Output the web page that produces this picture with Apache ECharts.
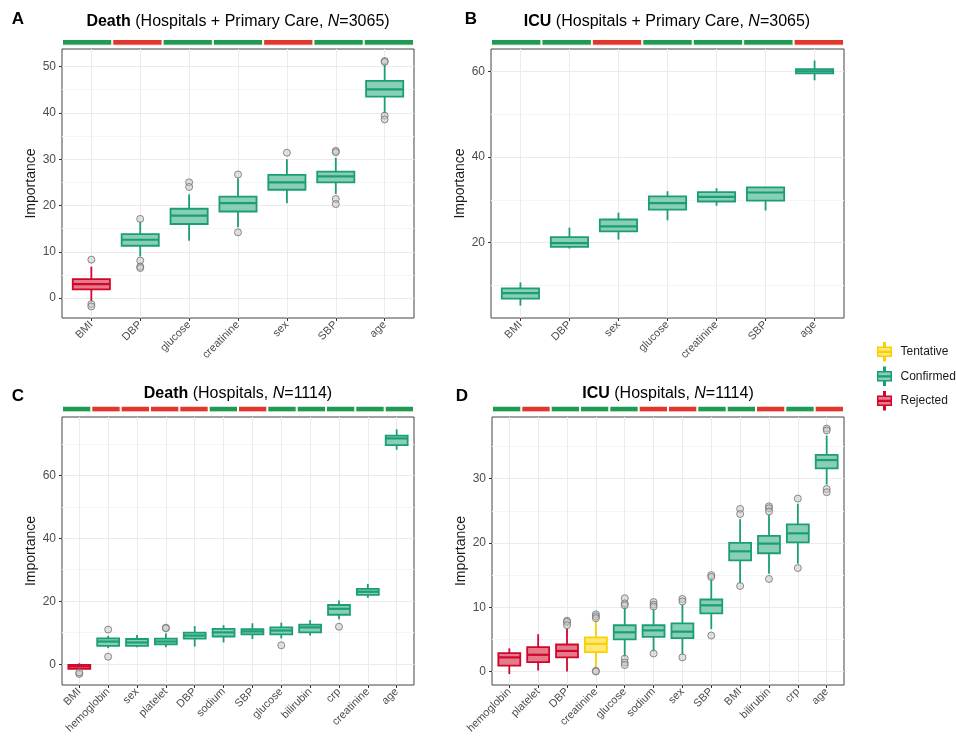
<!DOCTYPE html>
<html><head><meta charset="utf-8">
<script src="https://cdn.jsdelivr.net/npm/echarts@6/dist/echarts.min.js"></script>
<style>html,body{margin:0;padding:0;background:#fff}#c{width:956px;height:743px}</style>
</head><body><div id="c"></div><script>
// ---------- DATA ----------
// Panel A: Death (Hospitals + Primary Care)
const catsA  = ['BMI','DBP','glucose','creatinine','sex','SBP','age'];
const lowA   = [-0.7, 9.0, 12.4, 15.3, 20.5, 22.5, 39.9];
const q1A    = [1.9, 11.3, 16.0, 18.7, 23.4, 25.0, 43.5];
const medA   = [3.0, 12.6, 17.8, 20.5, 25.0, 26.3, 45.1];
const q3A    = [4.1, 13.8, 19.3, 21.9, 26.6, 27.3, 46.9];
const highA  = [6.8, 16.5, 22.4, 25.9, 30.0, 30.3, 50.7];
const decA   = ['R','C','C','C','C','C','C'];
const outA   = [[8.3,-1.3,-1.8],[17.1,8.1,6.8,6.5],[25.0,24.0],[26.7,14.2],[31.4],[31.8,31.5,21.4,20.3],[51.2,51.0,39.4,38.6]];
const stripA = ['G','R','G','G','R','G','G'];
const yTicksA = [0,10,20,30,40,50];

// Panel B: ICU (Hospitals + Primary Care)
const catsB  = ['BMI','DBP','sex','glucose','creatinine','SBP','age'];
const lowB   = [5.3, 18.6, 20.7, 25.2, 28.6, 27.5, 57.9];
const q1B    = [6.9, 19.0, 22.6, 27.7, 29.6, 29.8, 59.5];
const medB   = [8.2, 19.9, 23.8, 29.2, 30.7, 31.7, 60.0];
const q3B    = [9.3, 21.3, 25.4, 30.8, 31.8, 32.9, 60.5];
const highB  = [10.7, 23.5, 27.0, 32.0, 32.7, 33.0, 62.5];
const decB   = ['C','C','C','C','C','C','C'];
const outB   = [[],[],[],[],[],[],[]];
const stripB = ['G','G','R','G','G','G','R'];
const yTicksB = [20,40,60];

// Panel C: Death (Hospitals)
const catsC  = ['BMI','hemoglobin','sex','platelet','DBP','sodium','SBP','glucose','bilirubin','crp','creatinine','age'];
const lowC   = [-2.3, 5.1, 5.4, 5.4, 5.6, 6.9, 8.0, 8.2, 9.1, 14.3, 21.1, 68.1];
const q1C    = [-1.5, 5.8, 5.8, 6.3, 8.1, 8.8, 9.5, 9.5, 10.1, 15.7, 22.0, 69.6];
const medC   = [-0.7, 7.2, 6.9, 7.2, 9.1, 10.1, 10.4, 10.7, 11.7, 17.6, 23.0, 71.7];
const q3C    = [-0.2, 8.2, 8.0, 8.1, 10.0, 11.2, 11.1, 11.7, 12.6, 18.8, 23.9, 72.6];
const highC  = [0.3, 9.0, 9.3, 9.8, 12.1, 12.4, 13.0, 13.2, 14.0, 20.2, 25.5, 74.6];
const decC   = ['R','C','C','C','C','C','C','C','C','C','C','C'];
const outC   = [[-3.1,-2.6],[11.0,2.4],[],[11.6,11.4],[],[],[],[6.0],[],[11.9],[],[]];
const stripC = ['G','R','R','R','R','G','R','G','G','G','G','G'];
const yTicksC = [0,20,40,60];

// Panel D: ICU (Hospitals)
const catsD  = ['hemoglobin','platelet','DBP','creatinine','glucose','sodium','sex','SBP','BMI','bilirubin','crp','age'];
const lowD   = [-0.4, 0.15, 0.0, 0.4, 2.3, 3.1, 2.6, 6.6, 13.7, 15.2, 16.8, 29.1];
const q1D    = [0.9, 1.45, 2.2, 3.0, 5.0, 5.4, 5.2, 9.05, 17.3, 18.4, 20.1, 31.6];
const medD   = [2.2, 2.6, 3.2, 4.3, 6.1, 6.4, 6.2, 10.3, 18.7, 19.9, 21.5, 32.9];
const q3D    = [2.85, 3.8, 4.2, 5.3, 7.2, 7.2, 7.5, 11.2, 20.0, 21.1, 22.9, 33.7];
const highD  = [3.6, 5.8, 6.7, 8.0, 10.0, 9.7, 10.4, 14.4, 23.7, 24.4, 26.1, 36.7];
const decD   = ['R','R','R','T','C','C','C','C','C','C','C','C'];
const outD   = [[],[],[7.9,7.7,7.2],[8.9,8.6,8.3,0.1,0.0],[11.4,10.6,10.3,2.0,1.4,1.0],[10.8,10.4,10.1,2.8],[11.3,10.9,2.2],[15.0,14.7,5.6],[25.3,24.5,13.3],[25.7,25.4,24.9,14.4],[26.9,16.1],[37.8,37.5,28.4,27.9]];
const stripD = ['G','R','G','G','G','R','R','G','G','R','G','R'];
const yTicksD = [0,10,20,30];

const legendNames = ['Tentative','Confirmed','Rejected'];

// ---------- STYLE ----------
const FONT = "'Liberation Sans', Arial, Helvetica, sans-serif";
const DEC = {
  T: {code:0, dark:'#f8d200', light:'#ffe77a'},
  C: {code:1, dark:'#1b9e77', light:'#88cfb5'},
  R: {code:2, dark:'#d1062b', light:'#e57a8c'}
};
const DEC_LIST = [DEC.T, DEC.C, DEC.R];
const STRIP = {G:'#1f9a50', R:'#e0362b'};
const BOX_W = 0.76;

const panels = [
  {cats:catsA, low:lowA, q1:q1A, med:medA, q3:q3A, high:highA, dec:decA, out:outA, strip:stripA, yticks:yTicksA,
   ymin:-4.3, ymax:53.8, yint:10, grid:{left:62, top:49, width:352, height:269}, stripTop:39},
  {cats:catsB, low:lowB, q1:q1B, med:medB, q3:q3B, high:highB, dec:decB, out:outB, strip:stripB, yticks:yTicksB,
   ymin:2.4, ymax:65.2, yint:20, grid:{left:491, top:49, width:353, height:269}, stripTop:39},
  {cats:catsC, low:lowC, q1:q1C, med:medC, q3:q3C, high:highC, dec:decC, out:outC, strip:stripC, yticks:yTicksC,
   ymin:-6.6, ymax:78.5, yint:20, grid:{left:62, top:417, width:352, height:268}, stripTop:405.7},
  {cats:catsD, low:lowD, q1:q1D, med:medD, q3:q3D, high:highD, dec:decD, out:outD, strip:stripD, yticks:yTicksD,
   ymin:-2.1, ymax:39.6, yint:10, grid:{left:492, top:417, width:352, height:268}, stripTop:405.7}
];

function renderBox(params, api) {
  const x = api.value(0);
  const pLow = api.coord([x, api.value(1)]);
  const pQ1 = api.coord([x, api.value(2)]);
  const pMed = api.coord([x, api.value(3)]);
  const pQ3 = api.coord([x, api.value(4)]);
  const pHigh = api.coord([x, api.value(5)]);
  const c = DEC_LIST[api.value(6)];
  const w = api.size([BOX_W, 0])[0];
  const cx = pMed[0];
  const lw = 1.8;
  return {type:'group', children:[
    {type:'line', shape:{x1:cx, y1:pHigh[1], x2:cx, y2:pLow[1]}, style:{stroke:c.dark, lineWidth:lw}},
    {type:'rect', shape:{x:cx - w/2, y:pQ3[1], width:w, height:pQ1[1] - pQ3[1]},
     style:{fill:c.light, stroke:c.dark, lineWidth:lw}},
    {type:'line', shape:{x1:cx - w/2, y1:pMed[1], x2:cx + w/2, y2:pMed[1]}, style:{stroke:c.dark, lineWidth:lw + 0.4}}
  ]};
}

const grid = [], xAxis = [], yAxis = [], series = [];
panels.forEach((p, i) => {
  const n = p.cats.length;
  const idx = p.cats.map((_, j) => j);
  grid[i] = Object.assign({show:true, borderColor:'#444', borderWidth:1, containLabel:false, outerBoundsMode:'none'}, p.grid);
  grid[i + 4] = {left:p.grid.left, width:p.grid.width, top:p.stripTop, height:6.7, containLabel:false, outerBoundsMode:'none'};
  xAxis[i] = {
    gridIndex:i, type:'value', min:-0.6, max:n - 0.4, minInterval:1, maxInterval:1,
    axisLine:{show:false, onZero:false},
    axisTick:{show:true, customValues:idx, length:3, lineStyle:{color:'#333', width:1}},
    axisLabel:{customValues:idx, rotate:45, margin:5, fontSize:11, color:'#4d4d4d', fontFamily:FONT,
      formatter: v => p.cats[Math.round(v)] || ''},
    splitLine:{show:true, lineStyle:{color:'#ebebeb', width:1}}
  };
  yAxis[i] = {
    gridIndex:i, type:'value', min:p.ymin, max:p.ymax, minInterval:p.yint, maxInterval:p.yint,
    axisLine:{show:false, onZero:false},
    axisTick:{show:true, customValues:p.yticks, length:3, lineStyle:{color:'#333', width:1}},
    axisLabel:{customValues:p.yticks, margin:6, fontSize:12, color:'#4d4d4d', fontFamily:FONT},
    splitLine:{show:true, lineStyle:{color:'#ebebeb', width:1}},
    minorTick:{show:false, splitNumber:2},
    minorSplitLine:{show:true, lineStyle:{color:'#f5f5f5', width:1}},
    name:'Importance', nameLocation:'middle', nameGap:24,
    nameTextStyle:{fontSize:14, color:'#1a1a1a', fontFamily:FONT}
  };
  xAxis[i + 4] = {gridIndex:i + 4, type:'category', data:p.cats, show:false, boundaryGap:true};
  yAxis[i + 4] = {gridIndex:i + 4, type:'value', min:0, max:1, show:false};

  series.push({
    type:'bar', xAxisIndex:i + 4, yAxisIndex:i + 4, silent:true, barWidth:'100%',
    data:p.strip.map(s => ({value:1, itemStyle:{color:STRIP[s]}})),
    itemStyle:{borderColor:'#fff', borderWidth:1}
  });
  series.push({
    type:'custom', xAxisIndex:i, yAxisIndex:i, silent:true, renderItem:renderBox,
    encode:{x:0, y:[1,2,3,4,5]},
    data:p.cats.map((c, j) => [j, p.low[j], p.q1[j], p.med[j], p.q3[j], p.high[j], DEC[p.dec[j]].code]),
    z:2
  });
  const pts = [];
  p.out.forEach((arr, j) => arr.forEach(v => pts.push([j, v])));
  series.push({
    type:'scatter', xAxisIndex:i, yAxisIndex:i, silent:true, symbol:'circle', symbolSize:7,
    data:pts, z:3,
    itemStyle:{color:'rgba(200,200,200,0.65)', borderColor:'#707070', borderWidth:1}
  });
});

// dummy series for legend
legendNames.forEach(nm => series.push({type:'custom', name:nm, xAxisIndex:0, yAxisIndex:0, data:[], renderItem:() => null}));

const legendColors = [DEC.T, DEC.C, DEC.R];
const boxIcon = 'path://M1,6H19V18H1Z M9,0H11V6H9Z M9,18H11V24H9Z M1,11.5H19V12.5H1Z';

function titleText(x, y, bold, rest, nval) {
  return {type:'text', x:x, y:y, silent:true, style:{
    text:'{b|' + bold + '}{n| (' + rest + ', }{i|N}{n|=' + nval + ')}',
    align:'center', verticalAlign:'middle',
    rich:{
      b:{fontSize:16, fontWeight:'bold', fontFamily:FONT, fill:'#000'},
      n:{fontSize:16, fontFamily:FONT, fill:'#000'},
      i:{fontSize:16, fontStyle:'italic', fontFamily:FONT, fill:'#000'}
    }
  }};
}
function letter(x, y, t) {
  return {type:'text', x:x, y:y, silent:true, style:{text:t, align:'center', verticalAlign:'middle',
    fontSize:17, fontWeight:'bold', fontFamily:FONT, fill:'#000'}};
}

const option = {
  animation:false,
  backgroundColor:'#fff',
  grid, xAxis, yAxis, series,
  legend:{
    orient:'vertical', left:872, top:337, itemWidth:16, itemHeight:18, itemGap:5, selectedMode:false,
    icon:boxIcon,
    textStyle:{fontSize:12, color:'#1a1a1a', fontFamily:FONT, padding:[0,0,0,3]},
    data:legendNames.map((nm, k) => ({name:nm, itemStyle:{color:legendColors[k].light, borderColor:legendColors[k].dark, borderWidth:1.5}}))
  },
  graphic:[
    titleText(238, 22, 'Death', 'Hospitals + Primary Care', '3065'),
    titleText(667, 22, 'ICU', 'Hospitals + Primary Care', '3065'),
    titleText(238, 394, 'Death', 'Hospitals', '1114'),
    titleText(668, 394, 'ICU', 'Hospitals', '1114'),
    letter(18, 19, 'A'), letter(471, 19, 'B'), letter(18, 396, 'C'), letter(462, 396, 'D')
  ]
};

const chart = echarts.init(document.getElementById('c'), null, {renderer:'canvas'});
chart.setOption(option);
</script></body></html>
